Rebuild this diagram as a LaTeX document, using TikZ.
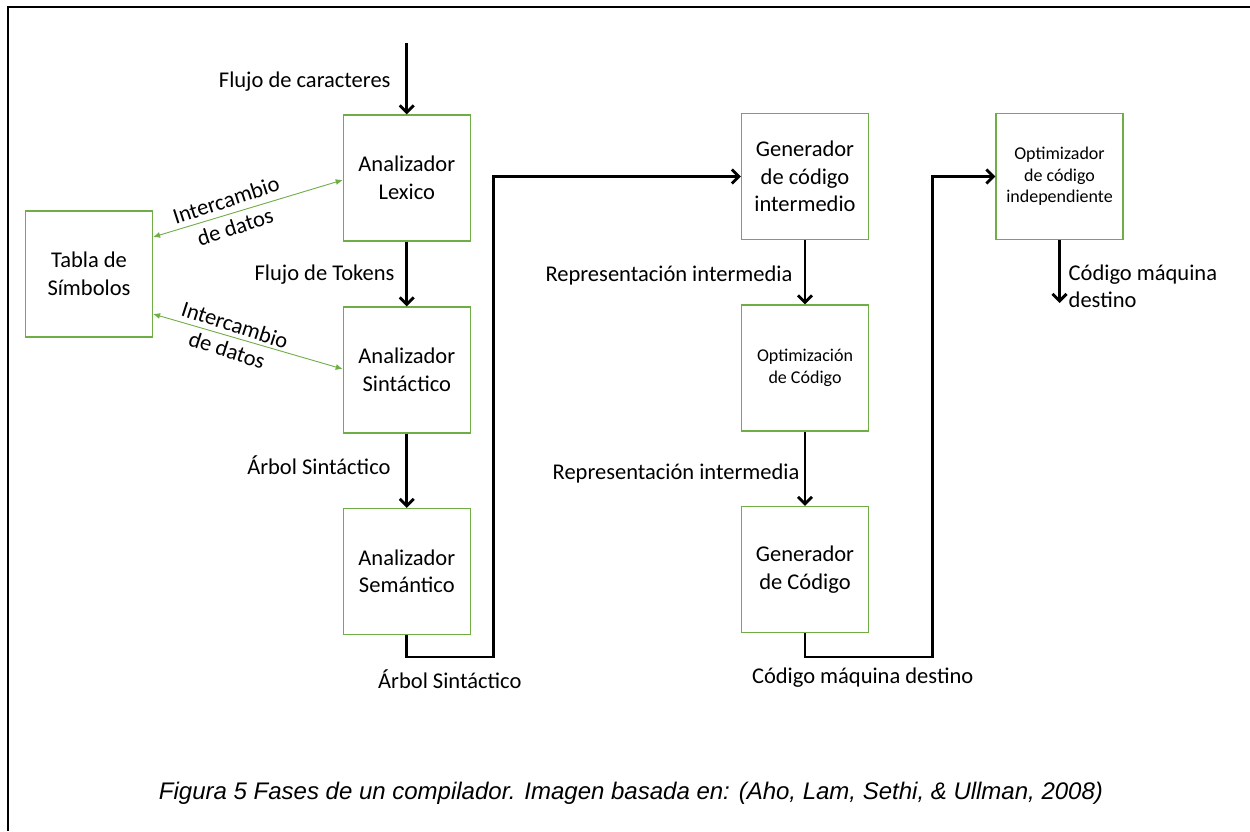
\documentclass[tikz,border=0pt]{standalone}
\usepackage{fontspec}
\setmainfont{Carlito}
\newfontfamily\capfont{Liberation Sans}
\usetikzlibrary{arrows.meta}
\definecolor{boxgreen}{HTML}{70AD47}
\begin{document}
\begin{tikzpicture}[x=1pt,y=-1pt,
  txt/.style={inner sep=0pt, font=\fontsize{22.5}{27.5}\selectfont},
  phase/.style={draw=boxgreen, line width=1.2pt, minimum width=127pt,
    minimum height=126pt, inner sep=0pt, align=center,
    font=\fontsize{22.5}{27.5}\selectfont},
  phasesmall/.style={phase, font=\fontsize{18}{21.5}\selectfont},
  flow/.style={line width=2.9pt, -{Straight Barb[length=7pt,width=14pt]}},
  swap/.style={draw=boxgreen, line width=0.9pt,
    {Latex[length=7pt,width=6pt]}-{Latex[length=7pt,width=6pt]}}]
\useasboundingbox (0,0) rectangle (1250,831);
% page frame (only top and left edges fall inside the page)
\draw[line width=2.4pt] (1250,7) -- (7.7,7) -- (7.7,831);

% phases
\node[phase] (lex)    at (406.8,178)   {Analizador\\Lexico};
\node[phase] (tabla)  at (89,274)      {Tabla de\\Símbolos};
\node[phase] (sint)   at (406.8,370)   {Analizador\\Sintáctico};
\node[phase] (sem)    at (406.8,571.5) {Analizador\\Semántico};
\node[phase] (gen1)   at (805,176.5)   {Generador\\de código\\intermedio};
\node[phasesmall] (opt)    at (805,368)    {Optimización\\de Código};
\node[phase] (gencod) at (805,569.5)   {Generador\\de Código};
\node[phasesmall] (optind) at (1059.5,176.5) {Optimizador\\de código\\independiente};

% main flow
\coordinate (in) at (406.8,43);
\coordinate (j1) at (493.6,657);
\coordinate (j2) at (932.8,657);
\coordinate (out) at (1059.5,303);
\draw[flow] (in) -- (lex);
\draw[flow] (lex) -- (sint);
\draw[flow] (sint) -- (sem);
\draw[flow] (sem.south) |- (j1) |- (gen1.west);
\draw[flow] (gen1) -- (opt);
\draw[flow] (opt) -- (gencod);
\draw[flow] (gencod.south) |- (j2) |- (optind.west);
\draw[flow] (optind) -- (out);

% symbol table exchanges
\draw[swap] ([yshift=37pt]tabla.east) -- ([yshift=-2pt]lex.west);
\draw[swap] ([yshift=-40pt]tabla.east) -- ([yshift=1pt]sint.west);

% labels
\node[txt, anchor=east] (l1) at (390.7,82) {Flujo de caracteres};
\node[txt, anchor=east] (l2) at (394.7,275) {Flujo de Tokens};
\node[txt, anchor=east] (l3) at (390.7,465) {Árbol Sintáctico};
\node[txt, anchor=west] (l4) at (378,679) {Árbol Sintáctico};
\node[txt, anchor=east] (l5) at (792.5,275) {Representación intermedia};
\node[txt, anchor=east] (l6) at (799.6,473) {Representación intermedia};
\node[txt, anchor=west] (l7) at (751.8,678) {Código máquina destino};
\node[txt, anchor=west, align=left] (l8) at (1068.5,286.5) {Código máquina\\destino};
\node[txt, rotate=18] (x1a) at (226,200) {Intercambio};
\node[txt, rotate=18] (x1b) at (235,227) {de datos};
\node[txt, rotate=-18] (x2a) at (235,325) {Intercambio};
\node[txt, rotate=-18] (x2b) at (227,350) {de datos};

% caption
\node[inner sep=0pt, font=\capfont\itshape\fontsize{24}{28}\selectfont] (cap) at (631,793)
  {Figura 5 Fases de un compilador. Imagen basada en: (Aho, Lam, Sethi, \& Ullman, 2008)};
\end{tikzpicture}
\end{document}
